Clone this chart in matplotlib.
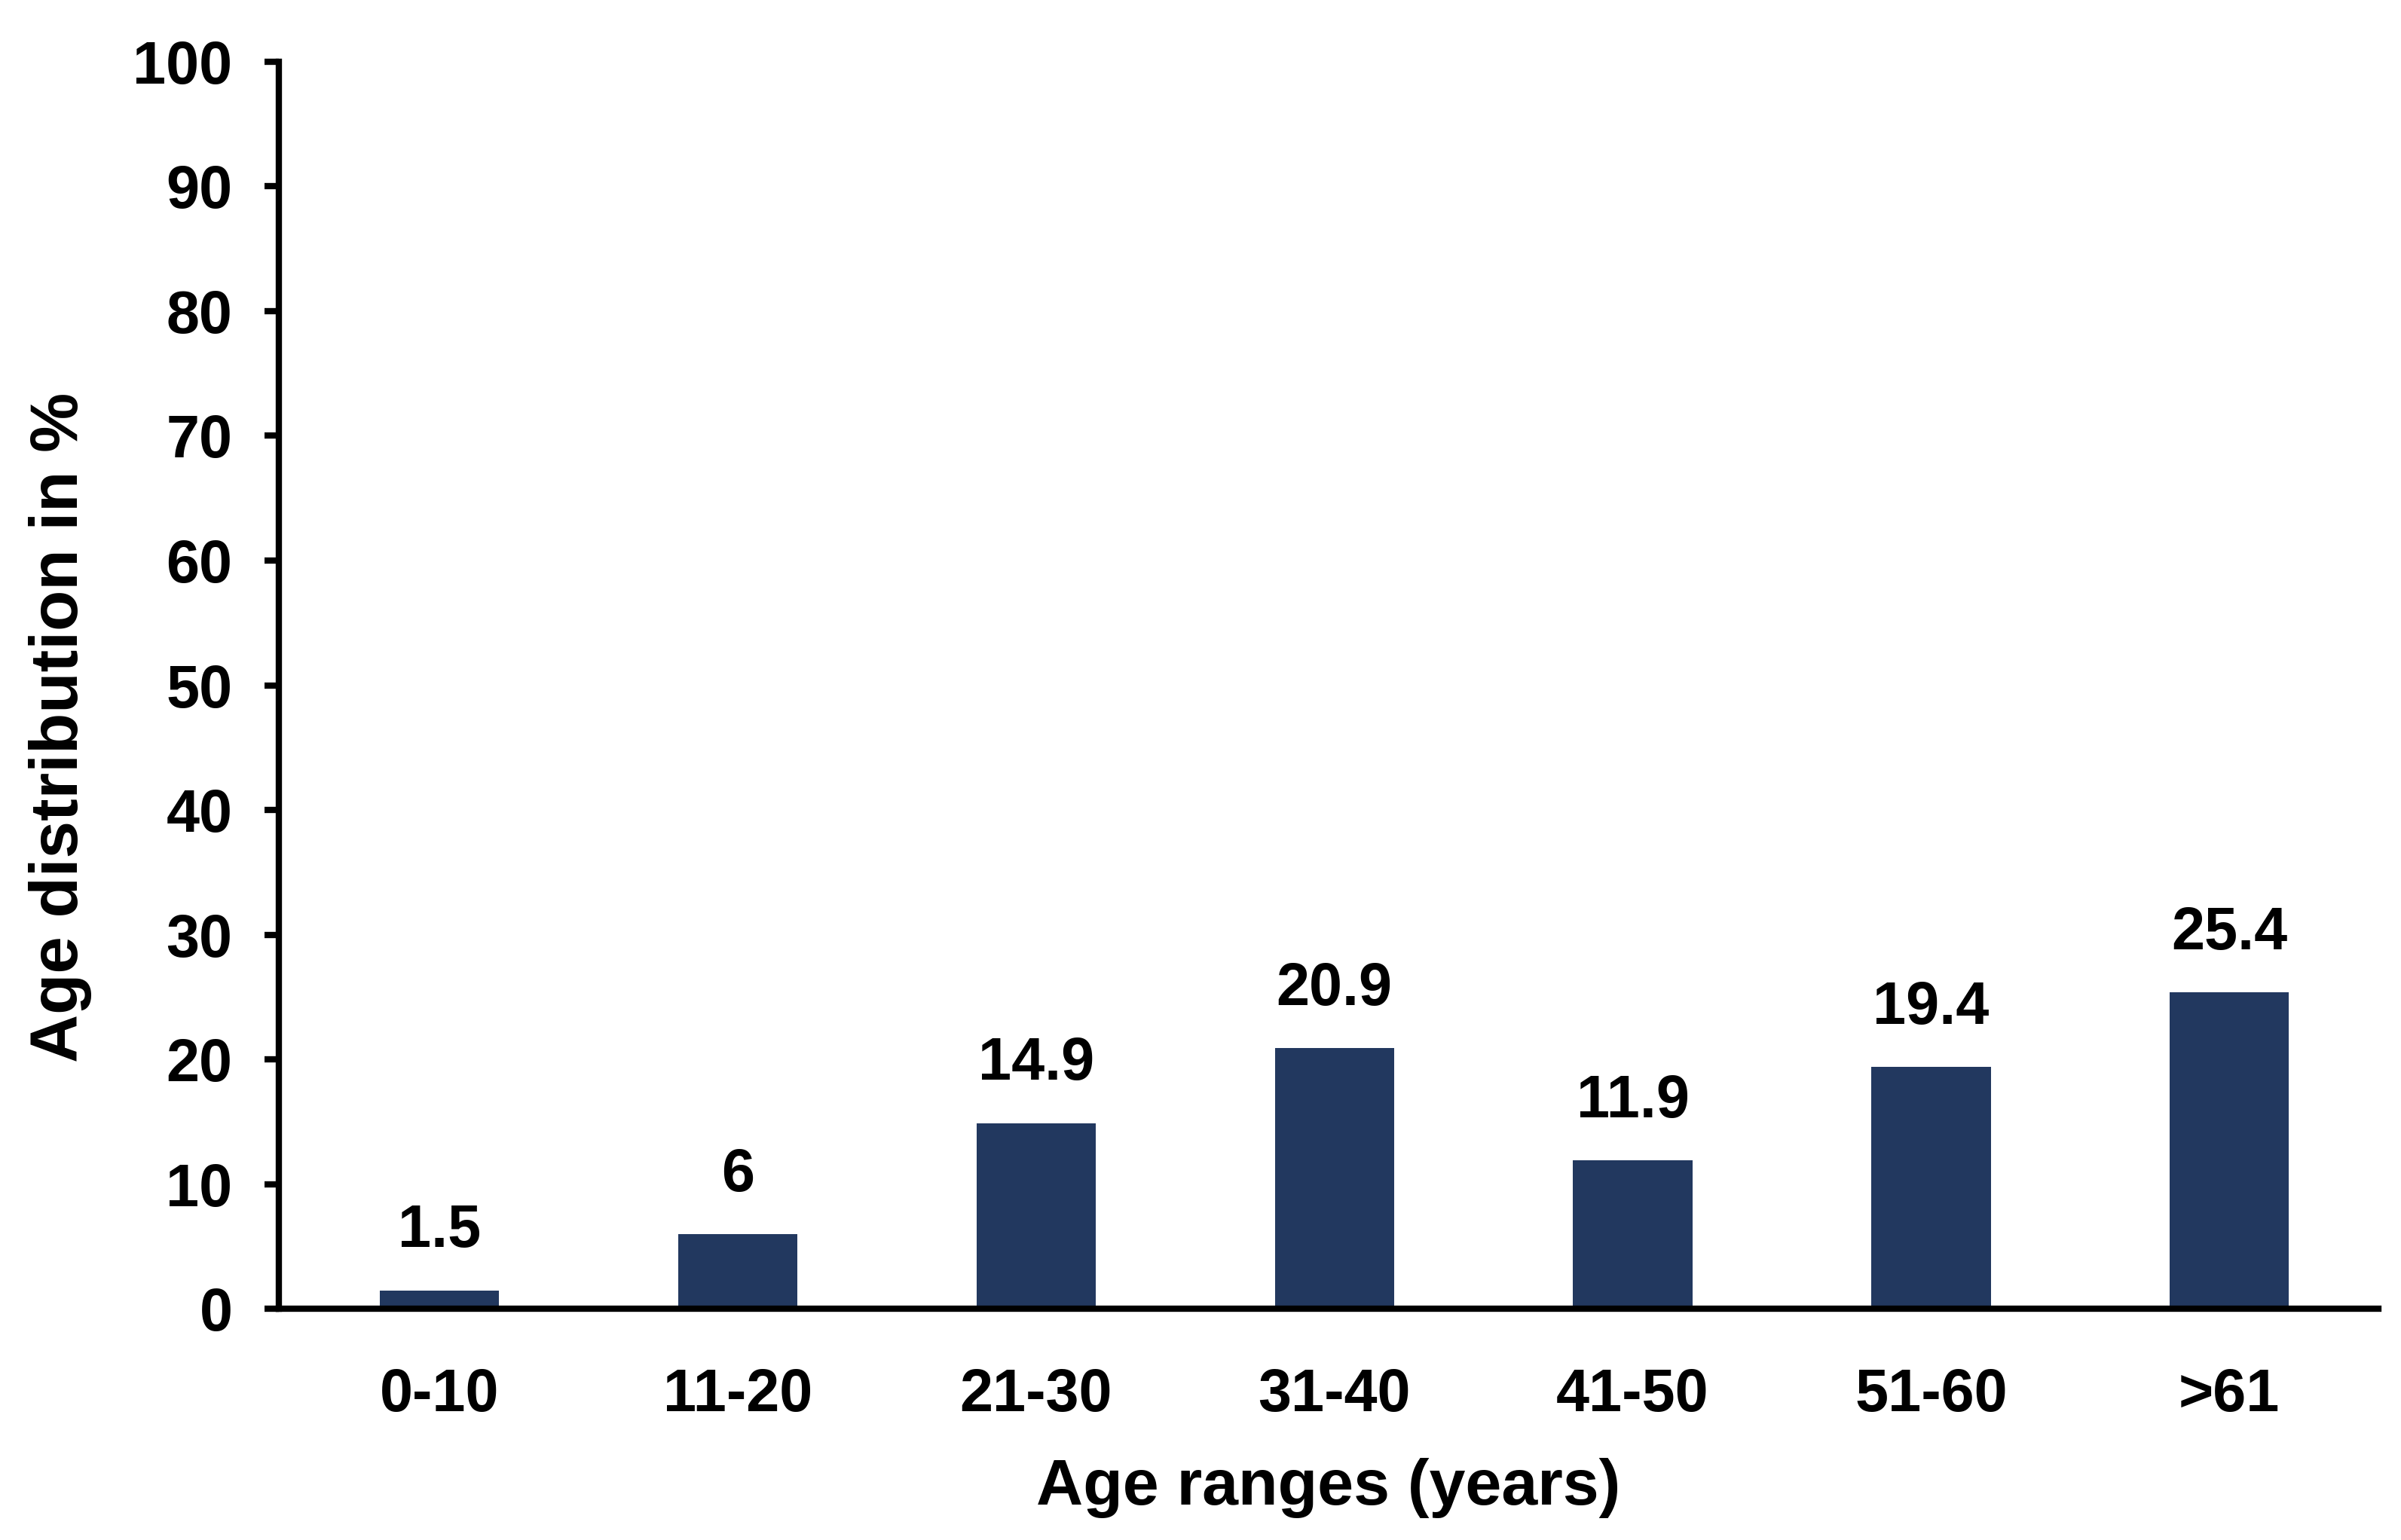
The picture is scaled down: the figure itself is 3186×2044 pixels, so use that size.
#!/usr/bin/env python3
import matplotlib
matplotlib.use('Agg')
import matplotlib.pyplot as plt
import sys

AGE_RANGES = ['0-10', '11-20', '21-30', '31-40', '41-50', '51-60', '>61']
PERCENT = [1.5, 6, 14.9, 20.9, 11.9, 19.4, 25.4]
VALUE_LABELS = ['1.5', '6', '14.9', '20.9', '11.9', '19.4', '25.4']
Y_TICKS = [0, 10, 20, 30, 40, 50, 60, 70, 80, 90, 100]

BAR_COLOR = '#22385f'


def main():
    plt.rcParams['font.family'] = ['Liberation Sans', 'DejaVu Sans']
    plt.rcParams['font.weight'] = 'bold'

    fig = plt.figure(figsize=(31.86, 20.44), dpi=100)
    ax = fig.add_axes([0.116, 0.150, 0.8746, 0.810])

    pos = range(len(AGE_RANGES))
    bars = ax.bar(pos, PERCENT, width=0.4, color=BAR_COLOR, zorder=2)

    for rect, txt in zip(bars, VALUE_LABELS):
        ax.annotate(txt, (rect.get_x() + rect.get_width() / 2, rect.get_height()),
                    xytext=(0, 29), textcoords='offset points',
                    ha='center', va='bottom', fontsize=57, fontweight='bold')

    ax.set_xlim(-0.54, 6.5)
    ax.set_ylim(0, 100)
    ax.set_yticks(Y_TICKS)
    ax.set_xticks(list(pos))
    ax.set_xticklabels(AGE_RANGES)

    for side in ('top', 'right'):
        ax.spines[side].set_visible(False)
    for side in ('left', 'bottom'):
        ax.spines[side].set_linewidth(6)
        ax.spines[side].set_zorder(3)

    ax.tick_params(axis='y', direction='out', length=14, width=6,
                   pad=30, labelsize=57)
    ax.tick_params(axis='x', length=0, pad=56, labelsize=57)
    for lab in ax.get_xticklabels() + ax.get_yticklabels():
        lab.set_fontweight('bold')

    ax.set_xlabel('Age ranges (years)', fontsize=62, fontweight='bold', labelpad=32)
    ax.set_ylabel('Age distribution in %', fontsize=64, fontweight='bold')
    ax.yaxis.set_label_coords(-0.089, 0.466)

    fig.savefig('out.png', dpi=100)


if __name__ == '__main__':
    sys.exit(main())
